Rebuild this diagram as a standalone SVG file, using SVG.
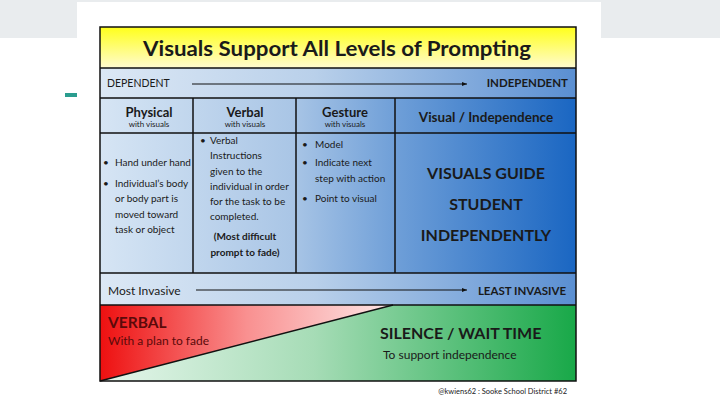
<svg xmlns="http://www.w3.org/2000/svg" width="720" height="405" viewBox="0 0 720 405">
<defs>
<linearGradient id="gTitle" x1="0" y1="0" x2="0" y2="1"><stop offset="0" stop-color="#ffff1a"/><stop offset="1" stop-color="#fffbd0"/></linearGradient>
<linearGradient id="gBand" x1="0" y1="0" x2="1" y2="0"><stop offset="0" stop-color="#dce8f5"/><stop offset="0.45" stop-color="#b9d0ea"/><stop offset="1" stop-color="#5a8fd2"/></linearGradient>
<linearGradient id="gBody" x1="0" y1="0" x2="1" y2="0"><stop offset="0" stop-color="#d6e5f4"/><stop offset="0.4" stop-color="#aac6e6"/><stop offset="0.62" stop-color="#6f9fd8"/><stop offset="1" stop-color="#1a66c2"/></linearGradient>
<linearGradient id="gRed" x1="0" y1="0" x2="1" y2="0"><stop offset="0" stop-color="#ee1010"/><stop offset="0.5" stop-color="#f99090"/><stop offset="1" stop-color="#fde8e8"/></linearGradient>
<linearGradient id="gGreen" x1="0" y1="0" x2="1" y2="0"><stop offset="0" stop-color="#e6f6ec"/><stop offset="0.45" stop-color="#a6dcb6"/><stop offset="1" stop-color="#18a848"/></linearGradient>
<marker id="arr" markerWidth="6" markerHeight="6" refX="5" refY="3" orient="auto" markerUnits="userSpaceOnUse"><path d="M0,1 L5,3 L0,5 z" fill="#111"/></marker>
<style>
text{font-family:Lato,"Open Sans","Liberation Sans",sans-serif;fill:#1a1a1a}
.b{font-weight:bold}
.hd{font-size:13px;font-weight:bold;text-anchor:middle}
.sub{font-size:8px;text-anchor:middle}
.t{font-size:10px}
.big{font-size:16px;font-weight:bold;text-anchor:middle}
.ln{stroke:#111;stroke-width:1.5;fill:none}
</style>
</defs>
<rect width="720" height="405" fill="#ffffff"/>
<rect x="0" y="0" width="720" height="38" fill="#e9ecee"/>
<rect x="77" y="2" width="524" height="403" fill="#ffffff"/>
<rect x="65" y="93" width="12" height="4" fill="#2a9d8f"/>

<g id="title"><rect x="100" y="27" width="476" height="41" fill="url(#gTitle)"/>
<text x="143" y="56" class="b" font-size="21" textLength="388" lengthAdjust="spacingAndGlyphs">Visuals Support All Levels of Prompting</text></g>

<g id="dependence"><rect x="100" y="68" width="476" height="30" fill="url(#gBand)"/>
<text x="107" y="87" font-size="10.5">DEPENDENT</text>
<text x="568" y="87" font-size="11.5" class="b" text-anchor="end">INDEPENDENT</text></g>

<g id="body"><rect x="100" y="98" width="476" height="175" fill="url(#gBody)"/></g>

<g id="physical">
<text x="149" y="117" class="hd">Physical</text><text x="149" y="127" class="sub">with visuals</text>
<text x="103" y="166" class="t">•</text><text x="115" y="166" class="t">Hand under hand</text>
<text x="103" y="187" class="t">•</text><text x="115" y="187" class="t">Individual’s body</text>
<text x="115" y="202" class="t">or body part is</text>
<text x="115" y="218" class="t">moved toward</text>
<text x="115" y="233" class="t">task or object</text>
</g>
<g id="verbal">
<text x="245" y="117" class="hd">Verbal</text><text x="245" y="127" class="sub">with visuals</text>
<text x="200" y="144" class="t">•</text><text x="210" y="144" class="t">Verbal</text>
<text x="210" y="159" class="t">Instructions</text>
<text x="210" y="175" class="t">given to the</text>
<text x="210" y="190" class="t">individual in order</text>
<text x="210" y="205" class="t">for the task to be</text>
<text x="210" y="220" class="t">completed.</text>
<text x="245" y="240" class="t b" text-anchor="middle">(Most difficult</text>
<text x="245" y="256" class="t b" text-anchor="middle">prompt to fade)</text>
</g>
<g id="gesture">
<text x="345" y="117" class="hd">Gesture</text><text x="345" y="127" class="sub">with visuals</text>
<text x="302" y="148" class="t">•</text><text x="315" y="148" class="t">Model</text>
<text x="302" y="166" class="t">•</text><text x="315" y="166" class="t">Indicate next</text>
<text x="315" y="182" class="t">step with action</text>
<text x="302" y="202" class="t">•</text><text x="315" y="202" class="t">Point to visual</text>
</g>
<g id="visual">
<text x="486" y="122" font-size="13.5" class="b" text-anchor="middle">Visual / Independence</text>
<text x="486" y="179" class="big">VISUALS GUIDE</text>
<text x="486" y="210" class="big">STUDENT</text>
<text x="486" y="241" class="big">INDEPENDENTLY</text>
</g>

<g id="invasive"><rect x="100" y="273" width="476" height="32" fill="url(#gBand)"/>
<text x="108" y="295" font-size="12">Most Invasive</text>
<text x="566" y="295" font-size="11.5" class="b" text-anchor="end">LEAST INVASIVE</text></g>

<g id="fade">
<rect x="100" y="305" width="476" height="76" fill="url(#gGreen)"/>
<polygon points="100,305 393,305 100,381" fill="url(#gRed)"/>
<line x1="100" y1="381" x2="393" y2="305" class="ln"/>
<text x="108" y="328" font-size="15.5" class="b" style="fill:#5a0a0a">VERBAL</text>
<text x="108" y="345" font-size="12" style="fill:#5a0a0a">With a plan to fade</text>
<text x="380" y="339" font-size="16" class="b">SILENCE / WAIT TIME</text>
<text x="383" y="359" font-size="12">To support independence</text>
</g>

<g id="connectors">
<line x1="192" y1="84" x2="467" y2="84" stroke="#111" stroke-width="1" marker-end="url(#arr)"/>
<line x1="196" y1="290" x2="467" y2="290" stroke="#111" stroke-width="1" marker-end="url(#arr)"/>
</g>

<g id="grid" class="ln">
<rect x="100" y="27" width="476" height="354"/>
<line x1="100" y1="68" x2="576" y2="68"/>
<line x1="100" y1="98" x2="576" y2="98"/>
<line x1="100" y1="133" x2="576" y2="133"/>
<line x1="100" y1="273" x2="576" y2="273"/>
<line x1="100" y1="305" x2="576" y2="305"/>
<line x1="193" y1="98" x2="193" y2="273"/>
<line x1="296" y1="98" x2="296" y2="273"/>
<line x1="395" y1="98" x2="395" y2="273"/>
</g>
<text x="567" y="394" font-size="7.5" text-anchor="end">@kwiens62 : Sooke School District #62</text>
</svg>
